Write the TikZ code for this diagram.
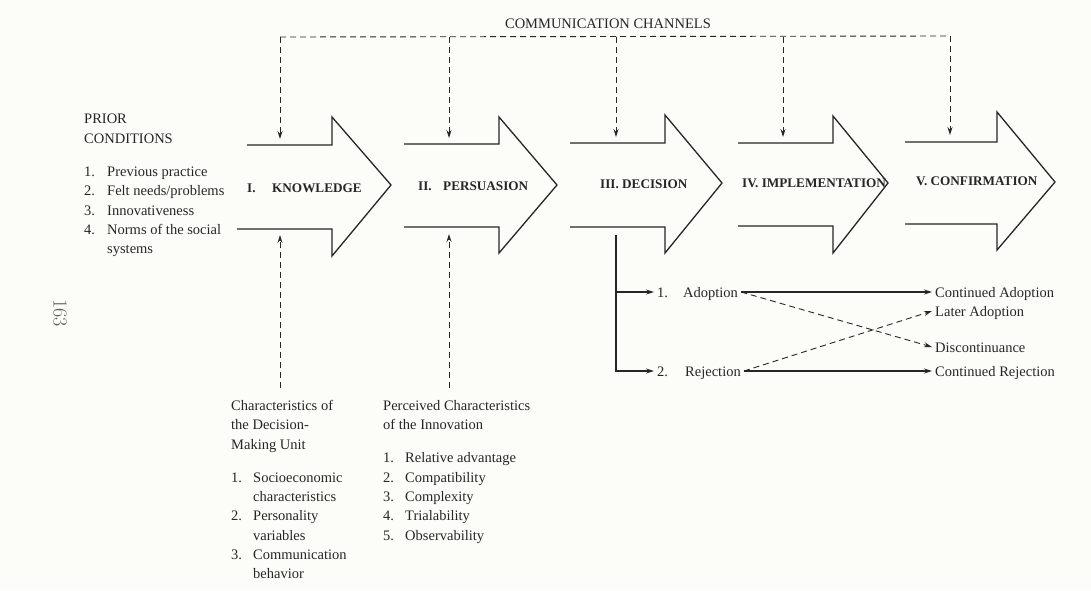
\documentclass[tikz,border=0pt]{standalone}
\usepackage{fontspec}
\newfontfamily\timesf{Liberation Serif}
\usetikzlibrary{arrows.meta}
\definecolor{ink}{HTML}{262626}
\definecolor{paper}{HTML}{FCFCF8}
\definecolor{folio}{HTML}{5E5E5E}
% fixed-width slot for a list number or a stage numeral
\newcommand\numlbl[2]{\makebox[#1][l]{#2}}

\begin{document}
\begin{tikzpicture}[x=1pt,y=-1pt,
  every node/.style={inner sep=0pt, text=ink},
  body/.style={font=\timesf\fontsize{14.5}{19.3}\selectfont},
  txt/.style={body, align=left},
  stage/.style={font=\timesf\bfseries\fontsize{13.2}{15}\selectfont, anchor=west},
  stage line/.style={draw=ink, line width=1.3pt, line join=miter},
  tip/.style={-{Stealth[length=8pt,width=5pt]}},
  channel/.style={draw=ink, line width=0.9pt, dash pattern=on 6pt off 4pt},
  flow/.style={draw=ink, line width=1.1pt},
  outcome/.style={body, anchor=base west, inner xsep=3pt, inner ysep=0pt,
                  text height=10pt, text depth=0pt},
]
\fill[paper] (0,0) rectangle (1091,590);
\useasboundingbox (0,0) rectangle (1091,590);

% the five stage arrows (open on the left)
\draw[stage line] (247,145) -- (332,145) -- (332,117) -- (391,185) -- (332,256) -- (332,229) -- (237,229);
\draw[stage line] (404,144) -- (499,144) -- (499,117) -- (557,185) -- (499,253) -- (499,227) -- (404,227);
\draw[stage line] (570,143) -- (665,143) -- (665,115) -- (722,183) -- (665,253) -- (665,227) -- (570,227);
\draw[stage line] (738,143) -- (833,143) -- (833,116) -- (888,183) -- (833,253) -- (833,226) -- (738,226);
\draw[stage line] (905,142) -- (997,142) -- (997,112) -- (1055,182) -- (997,250) -- (997,224) -- (905,224);

\node[stage] (knowledge) at (247,188) {\numlbl{25pt}{I.}KNOWLEDGE};
\node[stage] (persuasion) at (418,186) {\numlbl{25pt}{II.}PERSUASION};
\node[stage] (decision) at (600,184) {III. DECISION};
\node[stage] (implementation) at (742,183) {IV. IMPLEMENTATION};
\node[stage] (confirmation) at (916,181) {V. CONFIRMATION};

% communication channels feeding every stage
\node[body] (channels) at (608,24) {COMMUNICATION CHANNELS};
\coordinate (ch-k) at (280,37);
\coordinate (ch-p) at (449,37);
\coordinate (ch-d) at (616,37);
\coordinate (ch-i) at (783,37);
\coordinate (ch-c) at (950,36);
\coordinate (k-in) at (280,139);
\coordinate (p-in) at (449,138);
\coordinate (d-in) at (616,137);
\coordinate (i-in) at (783,137);
\coordinate (c-in) at (950,135);
\draw[channel] (ch-k) -- (ch-c);
\draw[channel,tip] (ch-k) -- (k-in);
\draw[channel,tip] (ch-p) -- (p-in);
\draw[channel,tip] (ch-d) -- (d-in);
\draw[channel,tip] (ch-i) -- (i-in);
\draw[channel,tip] (ch-c) -- (c-in);

% prior conditions
\node[txt, anchor=north west] (prior) at (84,114) {PRIOR\\CONDITIONS\\[14pt]%
  \numlbl{23pt}{1.}Previous practice\\
  \numlbl{23pt}{2.}Felt needs/problems\\
  \numlbl{23pt}{3.}Innovativeness\\
  \numlbl{23pt}{4.}Norms of the social\\
  \hspace*{23pt}systems};

% characteristics of the decision-making unit
\node[txt, anchor=north west] (unit) at (231,400) {Characteristics of\\the Decision-\\Making Unit\\[14pt]%
  \numlbl{22pt}{1.}Socioeconomic\\
  \hspace*{22pt}characteristics\\
  \numlbl{22pt}{2.}Personality\\
  \hspace*{22pt}variables\\
  \numlbl{22pt}{3.}Communication\\
  \hspace*{22pt}behavior};

% perceived characteristics of the innovation
\node[txt, anchor=north west] (perceived) at (383,400) {Perceived Characteristics\\of the Innovation\\[14pt]%
  \numlbl{22pt}{1.}Relative advantage\\
  \numlbl{22pt}{2.}Compatibility\\
  \numlbl{22pt}{3.}Complexity\\
  \numlbl{22pt}{4.}Trialability\\
  \numlbl{22pt}{5.}Observability};

\coordinate (unit-src) at (280,388);
\coordinate (k-under) at (280,235);
\coordinate (perc-src) at (449,388);
\coordinate (p-under) at (449,234);
\draw[channel,tip] (unit-src) -- (k-under);
\draw[channel,tip] (perc-src) -- (p-under);

% outcomes of the decision
\coordinate (d-out) at (616,235);
\node[outcome] (adopt) at (654,297) {\numlbl{26pt}{1.}Adoption};
\node[outcome] (reject) at (654,376) {\numlbl{28pt}{2.}Rejection};
\draw[flow,tip] (d-out) |- (adopt.west);
\draw[flow,tip] (d-out) |- (reject.west);

\node[outcome] (contadopt) at (932,297) {Continued Adoption};
\node[outcome] (later) at (932,316) {Later Adoption};
\node[outcome] (discont) at (932,352) {Discontinuance};
\node[outcome] (contreject) at (932,376) {Continued Rejection};
\draw[flow,tip] (adopt.east) -- (contadopt.west);
\draw[channel,tip] (adopt.east) -- (discont.west);
\draw[channel,tip] (reject.east) -- (later.west);
\draw[flow,tip] (reject.east) -- (contreject.west);

% page number
\node[font=\fontsize{20}{20}\selectfont, text=folio, rotate=-90] (pageno) at (60,313) {163};
\end{tikzpicture}
\end{document}
